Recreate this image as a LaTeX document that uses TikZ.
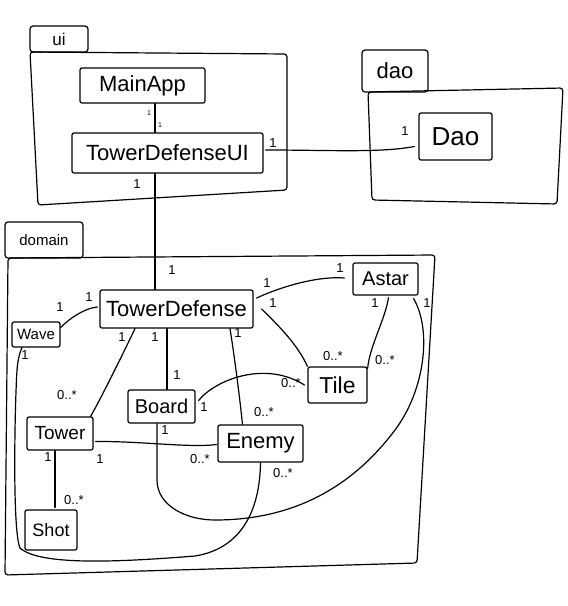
\documentclass[tikz,border=0pt]{standalone}
\usepackage{fontspec}
\setmainfont{Liberation Sans}
\usetikzlibrary{calc}
\begin{document}
\begin{tikzpicture}[x=1pt,y=-1pt,line width=1.2pt,line join=round,line cap=round,
  cls/.style={draw,rounded corners=2pt,inner sep=0pt,font=\fontsize{22}{24}\selectfont},
  tab/.style={draw,rounded corners=3pt,inner sep=0pt},
  lbl/.style={inner sep=0pt,font=\fontsize{13}{14}\selectfont},
  tiny/.style={inner sep=0pt,font=\fontsize{7}{8}\selectfont}]
\useasboundingbox (0,0) rectangle (568,606);
% packages
\node[tab,minimum width=58pt,minimum height=26pt,font=\fontsize{17}{18}\selectfont] (uitab) at (59,39) {ui};
\draw[rounded corners=3pt] (30,52) -- (287,54) -- (287,190) -- (38,205) -- cycle;
\node[tab,minimum width=66pt,minimum height=42pt,font=\fontsize{22}{24}\selectfont] (daotab) at (395,71) {dao};
\draw[rounded corners=3pt] (368,92) -- (563,88) -- (557,204) -- (372,200) -- cycle;
\node[tab,minimum width=78pt,minimum height=36pt,font=\fontsize{15}{17}\selectfont] (domtab) at (44,240) {domain};
\draw[rounded corners=3pt] (8,258) -- (435,255) -- (417,563) -- (5,575) -- cycle;
% classes
\node[cls,minimum width=125pt,minimum height=35pt] (MainApp) at (142.5,85.5) {MainApp};
\node[cls,minimum width=191pt,minimum height=40pt] (TDUI) at (167.5,153) {TowerDefenseUI};
\node[cls,minimum width=73pt,minimum height=47pt,font=\fontsize{26}{28}\selectfont] (Dao) at (455.5,136.5) {Dao};
\node[cls,minimum width=153pt,minimum height=38pt] (TD) at (176.5,309) {TowerDefense};
\node[cls,minimum width=48pt,minimum height=25pt,font=\fontsize{15}{16}\selectfont] (Wave) at (36,334.5) {Wave};
\node[cls,minimum width=65pt,minimum height=32pt,font=\fontsize{20}{22}\selectfont] (Astar) at (385.5,279) {Astar};
\node[cls,minimum width=59pt,minimum height=36pt,font=\fontsize{23}{25}\selectfont] (Tile) at (337.5,385) {Tile};
\node[cls,minimum width=67pt,minimum height=33pt,font=\fontsize{20}{22}\selectfont] (Board) at (161.5,406.5) {Board};
\node[cls,minimum width=66pt,minimum height=33pt,font=\fontsize{19}{20}\selectfont] (Tower) at (60,433.5) {Tower};
\node[cls,minimum width=85pt,minimum height=37pt] (Enemy) at (260.5,443.5) {Enemy};
\node[cls,minimum width=52pt,minimum height=40pt,font=\fontsize{18}{20}\selectfont] (Shot) at (51,530) {Shot};
% connectors
\draw ($(MainApp.south)+(12.5,0)$) -- ($(TDUI.north)+(-12.5,0)$);
\draw ($(TDUI.east)+(2,-3)$) .. controls (330,150) and (380,153) .. ($(Dao.west)+(-4,10)$);
\draw ($(TDUI.south)+(-12.5,0)$) -- ($(TD.north)+(-21.5,0)$);
\draw ($(TD.west)+(-2,-2)$) .. controls (85,308) and (70,318) .. ($(Wave.east)+(0,-7)$);
\draw ($(TD.east)+(3,-11)$) .. controls (285,285) and (320,276) .. ($(Astar.west)+(-8,-1)$);
\draw ($(TD.east)+(8,0)$) .. controls (278,325) and (298,345) .. (Tile.north west);
\draw ($(Astar.south)+(3,2)$) .. controls (385,320) and (370,345) .. ($(Tile.north east)+(0,2)$);
\draw ($(Board.east)+(3,-6)$) .. controls (215,380) and (265,360) .. ($(Tile.west)+(-3,0)$);
\draw ($(TD.south)+(-9.5,0)$) -- ($(Board.north)+(5.5,0)$);
\draw ($(TD.south)+(-41.5,0)$) .. controls (120,360) and (100,400) .. ($(Tower.north east)+(-3,0)$);
\draw ($(TD.south)+(53.5,0)$) .. controls (235,360) and (240,400) .. ($(Enemy.north)+(-18,0)$);
\draw ($(Tower.east)+(2,8)$) .. controls (140,441) and (190,448) .. ($(Enemy.west)+(-1,1)$);
\draw ($(Tower.south)+(-5,0)$) -- ($(Shot.north)+(4,-2)$);
\draw (Enemy.south) .. controls (260,505) and (245,548) .. (195,556)
   .. controls (120,562) and (40,566) .. (20,548)
   .. controls (12,530) and (15,400) .. (17,370)
   .. controls (18,358) and (20,352) .. ($(Wave.south)+(-14,0)$);
\draw ($(Board.south)+(-4.5,0)$) -- (157,480) .. controls (157,505) and (185,520) .. (215,520)
   .. controls (290,520) and (350,490) .. (395,430)
   .. controls (425,390) and (432,330) .. ($(Astar.south east)+(-5,3)$);
% multiplicities
\node[tiny] (l1) at (149,113) {1};
\node[tiny] (l2) at (160,125) {1};
\node[lbl] (l3) at (273,143) {1};
\node[lbl] (l4) at (405,131) {1};
\node[lbl] (l5) at (137,184) {1};
\node[lbl] (l6) at (172,270) {1};
\node[lbl] (l7) at (89,297) {1};
\node[lbl] (l8) at (60,307) {1};
\node[lbl] (l9) at (267,283) {1};
\node[lbl] (l10) at (340,268) {1};
\node[lbl] (l11) at (273,303) {1};
\node[lbl] (l12) at (333,356) {0..*};
\node[lbl] (l13) at (375,303) {1};
\node[lbl] (l14) at (385,360) {0..*};
\node[lbl] (l15) at (204,407) {1};
\node[lbl] (l16) at (291,383) {0..*};
\node[lbl] (l17) at (155,337) {1};
\node[lbl] (l18) at (177,375) {1};
\node[lbl] (l19) at (122,337) {1};
\node[lbl] (l20) at (67,395) {0..*};
\node[lbl] (l21) at (238,333) {1};
\node[lbl] (l22) at (264,412) {0..*};
\node[lbl] (l23) at (100,459) {1};
\node[lbl] (l24) at (200,459) {0..*};
\node[lbl] (l25) at (48,457) {1};
\node[lbl] (l26) at (74,500) {0..*};
\node[lbl] (l27) at (283,473) {0..*};
\node[lbl] (l28) at (25,355) {1};
\node[lbl] (l29) at (165,430) {1};
\node[lbl] (l30) at (427,303) {1};
\end{tikzpicture}
\end{document}
